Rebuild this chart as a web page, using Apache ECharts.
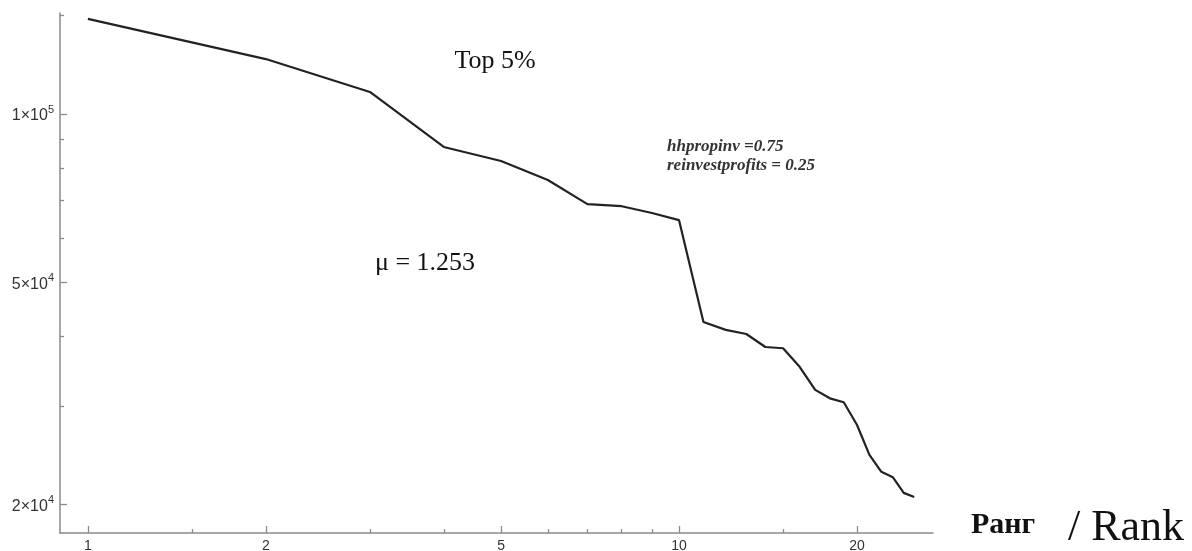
<!DOCTYPE html>
<html>
<head>
<meta charset="utf-8">
<script src="https://cdn.jsdelivr.net/npm/echarts@6/dist/echarts.min.js"></script>
<style>
html,body{margin:0;padding:0;background:#fff;}
#chart{width:1192px;height:551px;}
</style>
</head>
<body>
<div id="chart"></div>
<script>
// ---- data ----
const ranks = [1,2,3,4,5,6,7,8,9,10,11,12,13,14,15,16,17,18,19,20,21,22,23,24,25];
const wealth = [148000,125400,109500,87300,82400,76200,69000,68400,66500,64600,42450,41100,40400,38300,38100,35300,32100,31000,30500,27800,24550,22900,22400,21000,20650];
const xMajorTicks = [1,2,5,10,20];
const xMinorTicks = [1.5,3,4,6,7,8,9,15];
const yMajorTicks = [20000,50000,100000];
const yMajorLabels = ['2×10^4','5×10^4','1×10^5'];
const yMinorTicks = [30000,40000,60000,70000,80000,90000,150000];
const xRange = [0.897, 26.9];
const yRange = [17800, 151600];

const chart = echarts.init(document.getElementById('chart'), null, {renderer:'canvas'});
const axisColor = '#8a8a8a';
const labelColor = '#333';

function yLabel(v){
  const i = yMajorTicks.findIndex(t => Math.abs(t - v) / t < 1e-6);
  if (i < 0) return '';
  const parts = yMajorLabels[i].split('^');
  return '{b|' + parts[0] + '}{s|' + parts[1] + '}';
}

const option = {
  animation:false,
  backgroundColor:'#fff',
  grid:{left:60, right:259, top:13, bottom:18, containLabel:false, outerBoundsMode:'none'},
  xAxis:[
    {type:'log', logBase:10, min:xRange[0], max:xRange[1], position:'bottom',
     axisLine:{show:true, lineStyle:{color:axisColor, width:1.5}},
     axisTick:{show:true, inside:true, length:7, customValues:xMajorTicks, lineStyle:{color:axisColor, width:1.3}},
     axisLabel:{show:true, customValues:xMajorTicks, color:labelColor, fontSize:14, fontFamily:'Liberation Sans', margin:6},
     splitLine:{show:false}, minorTick:{show:false}},
    {type:'log', logBase:10, min:xRange[0], max:xRange[1], position:'bottom',
     axisLine:{show:false},
     axisTick:{show:true, inside:true, length:4, customValues:xMinorTicks, lineStyle:{color:axisColor, width:1.3}},
     axisLabel:{show:false}, splitLine:{show:false}}
  ],
  yAxis:[
    {type:'log', logBase:10, min:yRange[0], max:yRange[1], position:'left',
     axisLine:{show:true, lineStyle:{color:axisColor, width:1.5}},
     axisTick:{show:true, inside:true, length:7, customValues:yMajorTicks, lineStyle:{color:axisColor, width:1.3}},
     axisLabel:{show:true, customValues:yMajorTicks, margin:6, formatter:yLabel,
       rich:{
         b:{fontSize:16, fontFamily:'Liberation Sans', color:labelColor, lineHeight:20, verticalAlign:'bottom'},
         s:{fontSize:11, fontFamily:'Liberation Sans', color:labelColor, lineHeight:11, verticalAlign:'top'}
       }},
     splitLine:{show:false}},
    {type:'log', logBase:10, min:yRange[0], max:yRange[1], position:'left',
     axisLine:{show:false},
     axisTick:{show:true, inside:true, length:4, customValues:yMinorTicks, lineStyle:{color:axisColor, width:1.3}},
     axisLabel:{show:false}, splitLine:{show:false}}
  ],
  series:[{
    type:'line', xAxisIndex:0, yAxisIndex:0,
    data: ranks.map((r,i) => [r, wealth[i]]),
    showSymbol:false, symbol:'none',
    lineStyle:{color:'#222', width:2.2},
    clip:false
  }],
  graphic:[
    {type:'text', style:{text:'Top 5%', x:495, y:61, align:'center', verticalAlign:'middle', fontSize:26, fontFamily:'Liberation Serif', fill:'#111'}},
    {type:'text', style:{text:'μ = 1.253', x:375, y:263, align:'left', verticalAlign:'middle', fontSize:26, fontFamily:'Liberation Serif', fill:'#111'}},
    {type:'text', style:{text:'hhpropinv =0.75', x:667, y:147, align:'left', verticalAlign:'middle', fontSize:17, fontStyle:'italic', fontWeight:'bold', fontFamily:'Liberation Serif', fill:'#333'}},
    {type:'text', style:{text:'reinvestprofits = 0.25', x:667, y:166, align:'left', verticalAlign:'middle', fontSize:17, fontStyle:'italic', fontWeight:'bold', fontFamily:'Liberation Serif', fill:'#333'}},
    {type:'text', style:{text:'Ранг', x:971, y:525, align:'left', verticalAlign:'middle', fontSize:30, fontWeight:'bold', fontFamily:'Liberation Serif', fill:'#111'}},
    {type:'text', style:{text:'/ Rank', x:1068, y:528, align:'left', verticalAlign:'middle', fontSize:44, fontFamily:'Liberation Serif', fill:'#111'}}
  ]
};
chart.setOption(option);
</script>
</body>
</html>
